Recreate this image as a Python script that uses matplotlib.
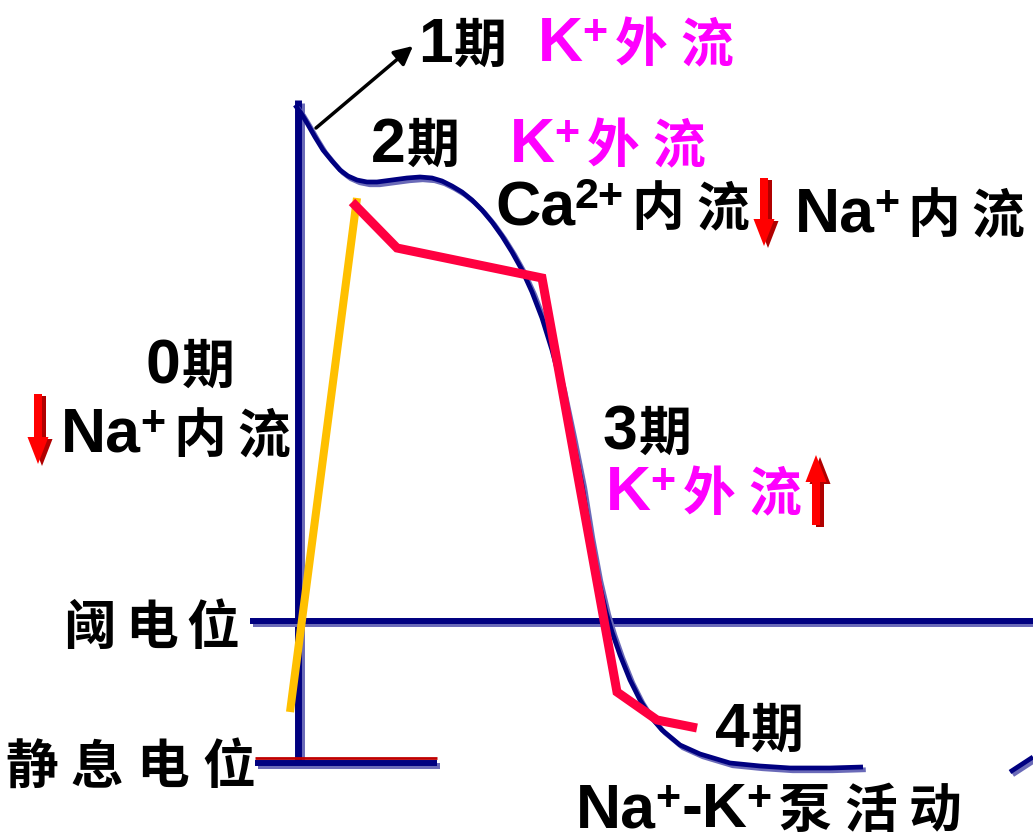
import matplotlib
matplotlib.use("Agg")
import matplotlib.pyplot as plt
import matplotlib.patheffects as pe
from matplotlib.patches import FancyArrow

W, H = 1033, 839

# ---------------- data (pixel coords) ----------------
# slow response action potential (navy curve)
ap_x = [295, 301, 307, 315, 323, 332, 340, 348, 357, 367, 377, 392, 407, 420,
        432, 442, 452, 462, 472, 482, 492, 502, 512, 522, 532, 542, 552, 562,
        572, 582, 590, 598, 606, 612, 620, 630, 640, 650, 662, 680, 700, 730,
        760, 790, 830, 863]
ap_y = [105, 113, 123, 137, 150, 161, 170, 176, 180, 182, 182, 180, 178, 177,
        178, 181, 186, 192, 200, 210, 222, 236, 252, 270, 292, 318, 350, 388,
        435, 485, 535, 578, 612, 632, 655, 680, 700, 716, 730, 745, 754, 763,
        766, 768, 768, 767]
# start of the next potential at the right border
next_x = [1010, 1033]
next_y = [772, 757]
# phase 0 depolarisation (yellow)
up_x = [290, 357]
up_y = [712, 198]
# phases 1-4 (red)
red_x = [352, 397, 542, 617, 657, 697]
red_y = [202, 248, 278, 692, 720, 728]

axis_x = 298
axis_top = 100
threshold_y = 621
rest_y = 763

# labels ("^" marks a superscript charge)
stage_labels = ["0期", "1期", "2期", "3期", "4期"]
flow_labels = ["Na^+内流", "K^+外流", "K^+外流", "Ca^2+内流", "Na^+内流",
               "K^+外流", "Na^+-K^+泵活动"]
level_labels = ["阈电位", "静息电位"]

NAVY = "#000080"
SHADOW = "#6a6ab8"
MAGENTA = "#ff00ff"

fig = plt.figure(figsize=(10.33, 8.39), dpi=100)
ax = fig.add_axes([0, 0, 1, 1])
ax.set_xlim(0, W)
ax.set_ylim(H, 0)
ax.axis("off")
renderer = fig.canvas.get_renderer()

shadow = [pe.SimpleLineShadow(offset=(2, -2), shadow_color=SHADOW, alpha=1), pe.Normal()]

# ---------------- axes lines ----------------
ax.plot([axis_x, axis_x], [axis_top, rest_y], color=NAVY, lw=5,
        solid_capstyle="butt", path_effects=shadow)
ax.plot([250, W], [threshold_y, threshold_y], color=NAVY, lw=4.3,
        solid_capstyle="butt", path_effects=shadow)
ax.plot([255, 437], [rest_y, rest_y], color=NAVY, lw=4.3,
        solid_capstyle="butt", path_effects=shadow)
ax.plot([255, 437], [rest_y - 5, rest_y - 5], color="#c00000", lw=2,
        solid_capstyle="butt")

# ---------------- curves ----------------
ax.plot(ap_x, ap_y, color=NAVY, lw=3.4, solid_capstyle="butt", path_effects=shadow)
ax.plot(next_x, next_y, color=NAVY, lw=3.4, solid_capstyle="butt", path_effects=shadow)
ax.plot(up_x, up_y, color="#ffc000", lw=5.8, solid_capstyle="butt")
ax.plot(red_x, red_y, color="#ff0040", lw=6.5, solid_capstyle="butt",
        solid_joinstyle="miter")

# arrow to phase 1
ax.annotate("", xy=(413, 46), xytext=(316, 128),
            arrowprops=dict(arrowstyle="-|>", color="black", lw=2.5,
                            mutation_scale=28, shrinkA=0, shrinkB=0))


# red block arrows (up / down)
def block_arrow(x, y0, y1):
    for dx, c in [(4, "#b00000"), (0, "#ff0000")]:
        ax.add_patch(FancyArrow(x + dx, y0 + abs(dx) * 0.5, 0, y1 - y0, width=8,
                                head_width=21, head_length=27,
                                length_includes_head=True, color=c, lw=0))


block_arrow(38, 394, 464)
block_arrow(764, 178, 246)
block_arrow(816, 525, 455)


# ---------------- text ----------------
def tokens(s):
    out = []
    i = 0
    while i < len(s):
        c = s[i]
        if c == "^":
            j = i + 1
            while j < len(s) and s[j] in "0123456789+":
                j += 1
            out.append(("sup", s[i + 1:j]))
            i = j
        elif ord(c) > 0x2e80:
            out.append(("cjk", c))
            i += 1
        else:
            j = i
            while j < len(s) and s[j] != "^" and ord(s[j]) < 0x2e80:
                j += 1
            out.append(("lat", s[i:j]))
            i = j
    return out


STYLE = {
    "lat": dict(size=45, family="Liberation Sans", weight="bold", dy=0),
    "sup": dict(size=31, family="Liberation Sans", weight="bold", dy=-17),
    "cjk": dict(size=38, family=["Noto Sans CJK SC", "DejaVu Sans"], weight="bold", dy=0),
}


def put(x, y, s, color="black", cjk_gap=12):
    gaps = {("lat", "sup"): -1, ("sup", "cjk"): 8, ("cjk", "cjk"): cjk_gap,
            ("lat", "cjk"): 1, ("sup", "lat"): 1}
    prev = None
    for kind, txt in tokens(s):
        if prev is not None:
            x += gaps.get((prev, kind), 0)
        st = STYLE[kind]
        t = ax.text(x, y + st["dy"], txt, color=color, fontsize=st["size"],
                    family=st["family"], weight=st["weight"],
                    ha="left", va="baseline")
        x += t.get_window_extent(renderer).width
        prev = kind


# stages
put(146, 383, stage_labels[0])
put(418, 62, stage_labels[1])
put(371, 162, stage_labels[2])
put(603, 450, stage_labels[3])
put(715, 747, stage_labels[4])

# ion currents
put(61, 452, flow_labels[0])
put(538, 61, flow_labels[1], color=MAGENTA)
put(510, 162, flow_labels[2], color=MAGENTA)
put(495, 225, flow_labels[3])
put(795, 232, flow_labels[4])
put(606, 510, flow_labels[5], color=MAGENTA)
put(576, 827, flow_labels[6])

# potential levels
put(63, 644, level_labels[0], cjk_gap=9)
put(5, 783, level_labels[1], cjk_gap=13)

fig.savefig("out.png", dpi=100)
